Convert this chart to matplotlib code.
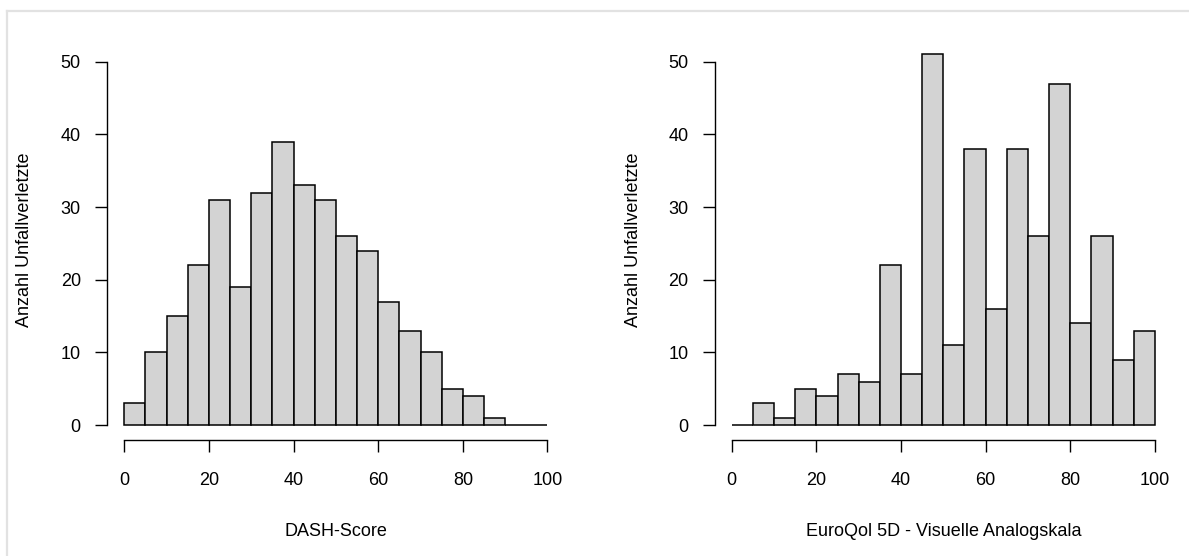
import numpy as np
import matplotlib
matplotlib.use("Agg")
import matplotlib.pyplot as plt
from matplotlib.lines import Line2D

plt.rcParams["font.family"] = ["Liberation Sans", "DejaVu Sans"]

# Histogram bins (width 5) and counts
bin_edges = list(range(0, 101, 5))
dash_counts = [3, 10, 15, 22, 31, 19, 32, 39, 33, 31, 26, 24, 17, 13, 10, 5, 4, 1, 0, 0]
eq5d_counts = [0, 3, 1, 5, 4, 7, 6, 22, 7, 51, 11, 38, 16, 38, 26, 47, 14, 26, 9, 13]

x_ticks = [0, 20, 40, 60, 80, 100]
y_ticks = [0, 10, 20, 30, 40, 50]
x_labels = ["DASH-Score", "EuroQol 5D - Visuelle Analogskala"]
y_label = "Anzahl Unfallverletzte"

W, H = 1189, 556
fig = plt.figure(figsize=(W / 100, H / 100), dpi=100)

# light frame around the figure
frame_kw = dict(color="#e2e2e2", linewidth=1.6, transform=None)
fig.add_artist(Line2D([7, 7], [0, H - 10.7], **frame_kw))
fig.add_artist(Line2D([7, W], [H - 10.7, H - 10.7], **frame_kw))


def panel(left_px, counts, xlabel, ylab_x):
    right_px = left_px + 457.0
    top_px, bottom_px = 39.6, 440.0
    ax = fig.add_axes([left_px / W, (H - bottom_px) / H,
                       (right_px - left_px) / W, (bottom_px - top_px) / H])
    edges = np.array(bin_edges, dtype=float)
    ax.bar(edges[:-1], counts, width=np.diff(edges), align="edge",
           color="#d3d3d3", edgecolor="black", linewidth=1.1)
    ax.set_xlim(-4, 104)
    ax.set_ylim(-2.04, 53.04)
    for s in ("top", "right"):
        ax.spines[s].set_visible(False)
    ax.spines["left"].set_bounds(0, 50)
    ax.spines["bottom"].set_bounds(0, 100)
    for s in ("left", "bottom"):
        ax.spines[s].set_linewidth(1.0)
    ax.set_xticks(x_ticks)
    ax.set_yticks(y_ticks)
    ax.tick_params(axis="both", length=8.6, width=1.0, labelsize=13, colors="black")
    ax.tick_params(axis="x", pad=14.5)
    ax.tick_params(axis="y", pad=10.5)
    ax.set_xlabel(xlabel, fontsize=13, va="center")
    ax.xaxis.set_label_coords(0.5, (bottom_px - 531) / (bottom_px - top_px))
    ax.set_ylabel(y_label, fontsize=13, va="center")
    ax.yaxis.set_label_coords((ylab_x - left_px) / (right_px - left_px), 0.5)
    return ax


panel(107.4, dash_counts, x_labels[0], 25)
panel(714.8, eq5d_counts, x_labels[1], 633)

fig.savefig("out.png", dpi=100)
